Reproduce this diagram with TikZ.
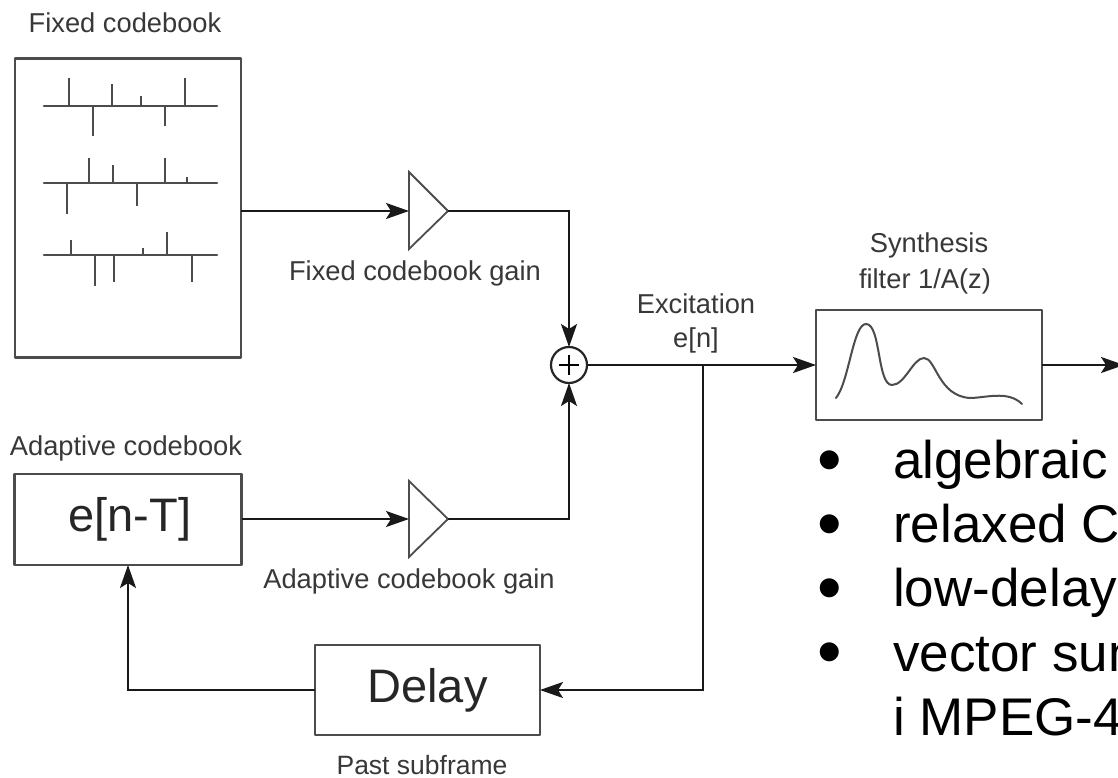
\documentclass[tikz,border=0pt]{standalone}
\usepackage{fontspec}
\setmainfont{Liberation Sans}
\usetikzlibrary{arrows.meta,calc}
\definecolor{boxc}{gray}{0.30}
\definecolor{txtc}{gray}{0.22}
\tikzset{
  x=1pt,y=-1pt,
  block/.style={draw=boxc,line width=2.5pt,inner sep=0pt,outer sep=0pt,line join=round},
  gain/.style={draw=boxc,line width=1.8pt,line join=miter},
  lab/.style={font=\fontsize{27.3}{32}\selectfont,text=txtc,inner sep=0pt,anchor=base},
  big/.style={font=\fontsize{47}{52}\selectfont,text=black!85},
  bul/.style={font=\fontsize{53}{60}\selectfont,inner sep=0pt,anchor=base west,text=black},
  bulb/.style={font=\fontsize{70}{70}\selectfont,inner sep=0pt,anchor=base,text=black},
  conn/.style={draw=black!90,line width=2.2pt,-{Stealth[length=23pt,width=16pt,inset=5pt]}},
  spike/.style={draw=black!70,line width=2.6pt},
  axis/.style={draw=black!70,line width=2.6pt,line cap=round},
}
\begin{document}
\begin{tikzpicture}
\clip (0,0) rectangle (1118,778);
\fill[white] (0,0) rectangle (1118,778);

% blocks
\node[block,minimum width=226pt,minimum height=299pt] (fixed) at (128,208) {};
\node[block,big,minimum width=227pt,minimum height=91pt] (adaptive) at (128,519.5) {\hspace*{4pt}e[n-T]};
\node[block,big,minimum width=225pt,minimum height=90pt] (delay) at (427.5,690) {Delay};
\node[block,minimum width=226pt,minimum height=110pt] (filter) at (929,365) {};
\coordinate (g1in) at (409,211);
\coordinate (g1out) at (448,211);
\coordinate (g2in) at (409,519);
\coordinate (g2out) at (448,519);
\draw[gain] (409,172) -- (g1out) -- (409,249) -- cycle;
\draw[gain] (409,481) -- (g2out) -- (409,557) -- cycle;
\node[draw=black!85,line width=2.2pt,circle,minimum size=36pt,inner sep=0pt,outer sep=0pt] (sum) at (569,365) {};
\draw[black,line width=2.4pt] ($(sum.center)+(-10,0)$) -- ($(sum.center)+(10,0)$)
  ($(sum.center)+(0,-10)$) -- ($(sum.center)+(0,10)$);

\coordinate (branch) at (703,365);
\coordinate (out) at (1124,365);

% connectors
\draw[conn] (fixed.east |- g1in) -- (g1in);
\draw[conn] (adaptive.east |- g2in) -- (g2in);
\draw[conn] (g1out) -| (sum.north);
\draw[conn] (g2out) -| (sum.south);
\draw[conn] (sum.east) -- (filter.west);
\draw[conn] (filter.east) -- (out);
\draw[conn] (branch) |- (delay.east);
\draw[conn] (delay.west) -| (adaptive.south);

% pulses in the fixed codebook
\foreach \yy/\pulses in {106/{69/78,93/136,112/84,141/96,165/126,185/78},
                         183/{67/214,89/158,113/165,137/206,165/158,187/177},
                         255/{71/240,95/286,114/282,143/248,167/232,192/282}}{
  \draw[axis] (44,\yy) -- (217,\yy);
  \foreach \xx/\tip in \pulses { \draw[spike] (\xx,\yy) -- (\xx,\tip); }
}

% filter response
\draw[black!70,line width=2pt,line cap=round] (836,398)
  .. controls (849,382) and (853,324) .. (866,324)
  .. controls (881,324) and (877,385) .. (892,385)
  .. controls (905,385) and (913,358) .. (924,358)
  .. controls (936,358) and (938,396) .. (970,398)
  .. controls (985,398) and (1008,390) .. (1022,404);

% labels
\node[lab] (t1) at (125,32.5) {Fixed codebook};
\node[lab] (t2) at (415,280) {Fixed codebook gain};
\node[lab] (t3) at (696,313) {Excitation};
\node[lab] (t4) at (696,347) {e[n]};
\node[lab] (t5) at (929,252) {Synthesis};
\node[lab] (t6) at (925,288) {filter 1/A(z)};
\node[lab] (t7) at (126,455) {Adaptive codebook};
\node[lab] (t8) at (409,588) {Adaptive codebook gain};
\node[lab,font=\fontsize{26.5}{30}\selectfont] (t9) at (422,774) {Past subframe};

% bullet list, as far as the picture shows it
\foreach \nm/\bl/\cy/\tx in {a/478/460/algebraic,b/542/524/relaxed C,c/606/588/low-delay,d/671/652/vector sum}{
  \node[bulb] (bu\nm) at (830,\cy+23) {•};
  \node[bul] (li\nm) at (893,\bl) {\tx};
}
\node[bul] (lie) at (893,735) {i MPEG-4};
\end{tikzpicture}
\end{document}
